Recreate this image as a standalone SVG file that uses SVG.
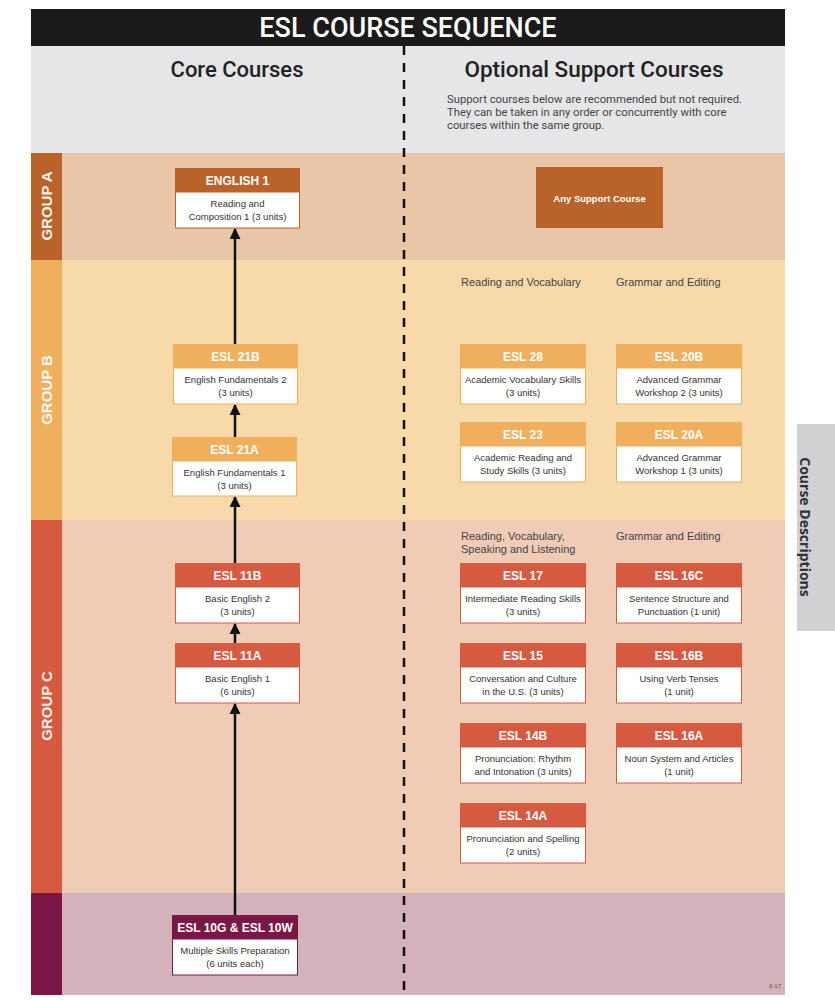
<svg xmlns="http://www.w3.org/2000/svg" width="835" height="1000" viewBox="0 0 835 1000">
<style>
.hd{font-family:"Liberation Sans",Arial,sans-serif;font-weight:bold;font-size:12px;fill:#fff;text-anchor:middle}
.bd{font-family:"Liberation Sans",Arial,sans-serif;font-size:9.5px;fill:#333;text-anchor:middle}
.cat{font-family:"Liberation Sans",Arial,sans-serif;font-size:11px;fill:#444}
.grp{font-family:"Liberation Sans",Arial,sans-serif;font-weight:bold;font-size:15px;fill:#fff;text-anchor:middle;opacity:0.9}
.body{fill:#fff}
.cA{fill:#b9632b}.sA{stroke:#b9632b}
.cB{fill:#efaf5d}.sB{stroke:#efaf5d}
.cC{fill:#d65a40}.sC{stroke:#d65a40}
.cD{fill:#7b1646}.sD{stroke:#7b1646}
.arr{stroke:#111;stroke-width:2.5;fill:none;marker-end:url(#ah)}
</style>
<defs>
<marker id="ah" viewBox="0 0 10 10" refX="9" refY="5" markerWidth="4.4" markerHeight="4.4" orient="auto" markerUnits="strokeWidth">
<path d="M0,0 L10,5 L0,10 z" fill="#111"/>
</marker>
</defs>
<rect width="835" height="1000" fill="#fff"/>
<!-- header -->
<rect x="31" y="9" width="754" height="37" fill="#1c1a1a"/>
<text x="408" y="37" font-family="Roboto,'Liberation Sans',sans-serif" font-size="27" font-weight="500" fill="#fff" text-anchor="middle">ESL COURSE SEQUENCE</text>
<rect x="31" y="46" width="754" height="107" fill="#e6e6e8"/>
<text x="237" y="77" font-family="Roboto,'Liberation Sans',sans-serif" font-size="22" fill="#222" text-anchor="middle" font-weight="500">Core Courses</text>
<text x="594" y="77" font-family="Roboto,'Liberation Sans',sans-serif" font-size="22.5" fill="#222" text-anchor="middle" font-weight="500">Optional Support Courses</text>
<text font-family="Roboto,'Liberation Sans',sans-serif" font-size="11.3" fill="#444">
<tspan x="447" y="103">Support courses below are recommended but not required.</tspan>
<tspan x="447" y="116">They can be taken in any order or concurrently with core</tspan>
<tspan x="447" y="129">courses within the same group.</tspan>
</text>
<!-- groups -->
<rect x="31" y="153" width="754" height="107" fill="#e8c6a7"/>
<rect x="31" y="153" width="31" height="107" class="cA"/>
<text class="grp" transform="translate(52,206) rotate(-90)">GROUP A</text>
<rect x="31" y="260" width="754" height="260" fill="#f7d9aa"/>
<rect x="31" y="260" width="31" height="260" class="cB"/>
<text class="grp" transform="translate(52,390) rotate(-90)">GROUP B</text>
<rect x="31" y="520" width="754" height="373" fill="#f0cbb6"/>
<rect x="31" y="520" width="31" height="373" class="cC"/>
<text class="grp" transform="translate(52,706) rotate(-90)">GROUP C</text>
<rect x="31" y="893" width="754" height="102" fill="#d3b2bb"/>
<rect x="31" y="893" width="31" height="102" class="cD"/>
<text x="775" y="988" font-family="'Liberation Sans',sans-serif" font-size="6" fill="#555" text-anchor="middle">6-17</text>
<!-- side tab -->
<rect x="797" y="424" width="38" height="207" fill="#d1d1d3"/>
<text transform="translate(800,527) rotate(90)" font-family="'Open Sans','Liberation Sans',sans-serif" font-size="14" font-weight="bold" fill="#333" text-anchor="middle">Course Descriptions</text>
<!-- divider -->
<line x1="404" y1="46" x2="404" y2="995" stroke="#111" stroke-width="2.5" stroke-dasharray="9,8"/>
<!-- category labels -->
<text class="cat" x="461" y="286">Reading and Vocabulary</text>
<text class="cat" x="616" y="286">Grammar and Editing</text>
<text class="cat" x="461" y="540">Reading, Vocabulary,</text>
<text class="cat" x="461" y="553">Speaking and Listening</text>
<text class="cat" x="616" y="540">Grammar and Editing</text>
<!-- connectors -->
<g id="connectors">
<line class="arr" x1="235" y1="344" x2="235" y2="229"/>
<line class="arr" x1="235" y1="437" x2="235" y2="405"/>
<line class="arr" x1="235" y1="563" x2="235" y2="497"/>
<line class="arr" x1="235" y1="643" x2="235" y2="624"/>
<line class="arr" x1="235" y1="915" x2="235" y2="704"/>
</g>
<!-- nodes -->
<g id="english1"><rect x="175" y="168" width="125" height="24" class="cA"/><rect x="175.5" y="192" width="124" height="36" class="body sA"/><text class="hd" x="237.5" y="185">ENGLISH 1</text><text class="bd" x="237.5" y="207">Reading and</text><text class="bd" x="237.5" y="220">Composition 1 (3 units)</text></g>
<g id="anysupport"><rect x="536" y="167" width="127" height="61" class="cA"/><text x="599.5" y="202" font-family="'Liberation Sans',sans-serif" font-size="9.5" font-weight="bold" fill="#fff" text-anchor="middle">Any Support Course</text></g>
<g id="esl21b"><rect x="173" y="344" width="125" height="24" class="cB"/><rect x="173.5" y="368" width="124" height="36" class="body sB"/><text class="hd" x="235.5" y="361">ESL 21B</text><text class="bd" x="235.5" y="383">English Fundamentals 2</text><text class="bd" x="235.5" y="396">(3 units)</text></g>
<g id="esl21a"><rect x="172" y="437" width="125" height="24" class="cB"/><rect x="172.5" y="461" width="124" height="35" class="body sB"/><text class="hd" x="234.5" y="454">ESL 21A</text><text class="bd" x="234.5" y="476">English Fundamentals 1</text><text class="bd" x="234.5" y="489">(3 units)</text></g>
<g id="esl11b"><rect x="175" y="563" width="125" height="24" class="cC"/><rect x="175.5" y="587" width="124" height="36" class="body sC"/><text class="hd" x="237.5" y="580">ESL 11B</text><text class="bd" x="237.5" y="602">Basic English 2</text><text class="bd" x="237.5" y="615">(3 units)</text></g>
<g id="esl11a"><rect x="175" y="643" width="125" height="24" class="cC"/><rect x="175.5" y="667" width="124" height="36" class="body sC"/><text class="hd" x="237.5" y="660">ESL 11A</text><text class="bd" x="237.5" y="682">Basic English 1</text><text class="bd" x="237.5" y="695">(6 units)</text></g>
<g id="esl10"><rect x="172" y="915" width="126" height="24" class="cD"/><rect x="172.5" y="939" width="125" height="36" class="body sD"/><text class="hd" x="235" y="932">ESL 10G &amp; ESL 10W</text><text class="bd" x="235" y="954">Multiple Skills Preparation</text><text class="bd" x="235" y="967">(6 units each)</text></g>
<g id="esl28"><rect x="460" y="344" width="126" height="24" class="cB"/><rect x="460.5" y="368" width="125" height="36" class="body sB"/><text class="hd" x="523" y="361">ESL 28</text><text class="bd" x="523" y="383">Academic Vocabulary Skills</text><text class="bd" x="523" y="396">(3 units)</text></g>
<g id="esl20b"><rect x="616" y="344" width="126" height="24" class="cB"/><rect x="616.5" y="368" width="125" height="36" class="body sB"/><text class="hd" x="679" y="361">ESL 20B</text><text class="bd" x="679" y="383">Advanced Grammar</text><text class="bd" x="679" y="396">Workshop 2 (3 units)</text></g>
<g id="esl23"><rect x="460" y="422" width="126" height="24" class="cB"/><rect x="460.5" y="446" width="125" height="36" class="body sB"/><text class="hd" x="523" y="439">ESL 23</text><text class="bd" x="523" y="461">Academic Reading and</text><text class="bd" x="523" y="474">Study Skills (3 units)</text></g>
<g id="esl20a"><rect x="616" y="422" width="126" height="24" class="cB"/><rect x="616.5" y="446" width="125" height="36" class="body sB"/><text class="hd" x="679" y="439">ESL 20A</text><text class="bd" x="679" y="461">Advanced Grammar</text><text class="bd" x="679" y="474">Workshop 1 (3 units)</text></g>
<g id="esl17"><rect x="460" y="563" width="126" height="24" class="cC"/><rect x="460.5" y="587" width="125" height="36" class="body sC"/><text class="hd" x="523" y="580">ESL 17</text><text class="bd" x="523" y="602">Intermediate Reading Skills</text><text class="bd" x="523" y="615">(3 units)</text></g>
<g id="esl16c"><rect x="616" y="563" width="126" height="24" class="cC"/><rect x="616.5" y="587" width="125" height="36" class="body sC"/><text class="hd" x="679" y="580">ESL 16C</text><text class="bd" x="679" y="602">Sentence Structure and</text><text class="bd" x="679" y="615">Punctuation (1 unit)</text></g>
<g id="esl15"><rect x="460" y="643" width="126" height="24" class="cC"/><rect x="460.5" y="667" width="125" height="36" class="body sC"/><text class="hd" x="523" y="660">ESL 15</text><text class="bd" x="523" y="682">Conversation and Culture</text><text class="bd" x="523" y="695">in the U.S. (3 units)</text></g>
<g id="esl16b"><rect x="616" y="643" width="126" height="24" class="cC"/><rect x="616.5" y="667" width="125" height="36" class="body sC"/><text class="hd" x="679" y="660">ESL 16B</text><text class="bd" x="679" y="682">Using Verb Tenses</text><text class="bd" x="679" y="695">(1 unit)</text></g>
<g id="esl14b"><rect x="460" y="723" width="126" height="24" class="cC"/><rect x="460.5" y="747" width="125" height="36" class="body sC"/><text class="hd" x="523" y="740">ESL 14B</text><text class="bd" x="523" y="762">Pronunciation: Rhythm</text><text class="bd" x="523" y="775">and Intonation (3 units)</text></g>
<g id="esl16a"><rect x="616" y="723" width="126" height="24" class="cC"/><rect x="616.5" y="747" width="125" height="36" class="body sC"/><text class="hd" x="679" y="740">ESL 16A</text><text class="bd" x="679" y="762">Noun System and Articles</text><text class="bd" x="679" y="775">(1 unit)</text></g>
<g id="esl14a"><rect x="460" y="803" width="126" height="24" class="cC"/><rect x="460.5" y="827" width="125" height="36" class="body sC"/><text class="hd" x="523" y="820">ESL 14A</text><text class="bd" x="523" y="842">Pronunciation and Spelling</text><text class="bd" x="523" y="855">(2 units)</text></g>
</svg>
